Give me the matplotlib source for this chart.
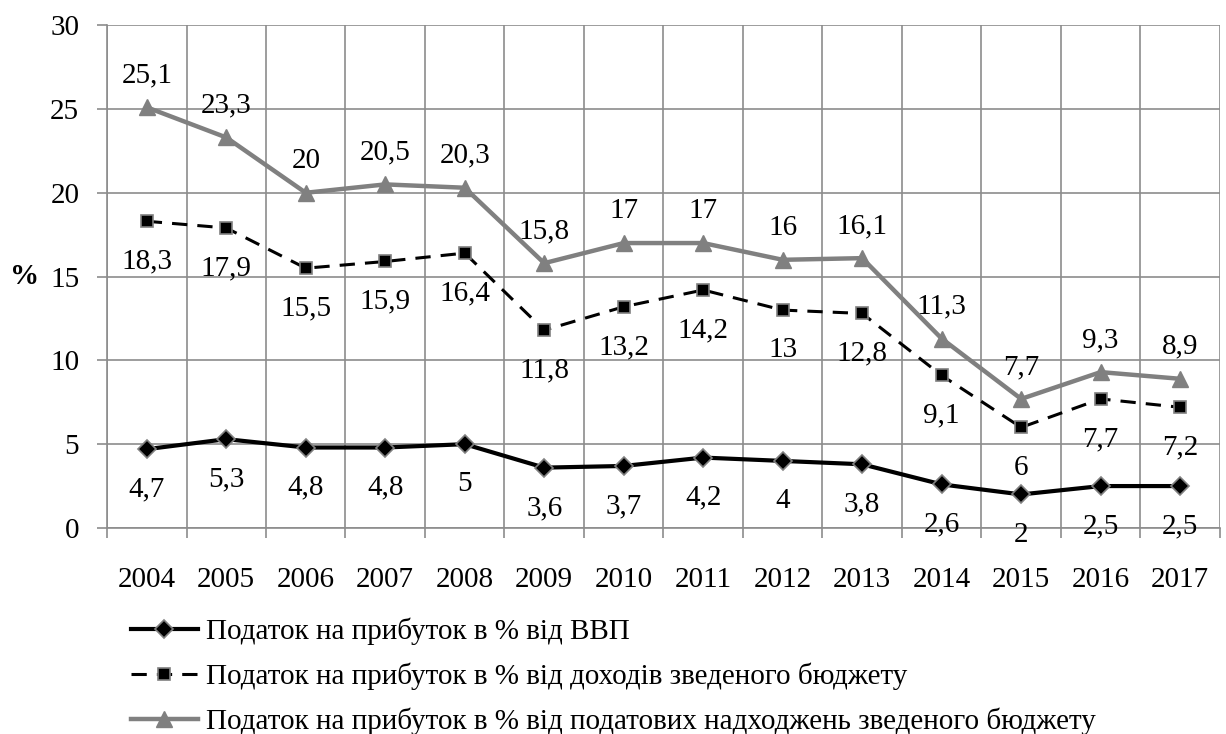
import matplotlib
matplotlib.use("Agg")
import matplotlib.pyplot as plt
from matplotlib.ticker import MultipleLocator, FixedLocator

plt.rcParams['font.family'] = ['Liberation Serif', 'DejaVu Serif']

years = ['2004', '2005', '2006', '2007', '2008', '2009', '2010',
         '2011', '2012', '2013', '2014', '2015', '2016', '2017']
gdp_share = [4.7, 5.3, 4.8, 4.8, 5, 3.6, 3.7, 4.2, 4, 3.8, 2.6, 2, 2.5, 2.5]
budget_share = [18.3, 17.9, 15.5, 15.9, 16.4, 11.8, 13.2, 14.2, 13, 12.8, 9.1, 6, 7.7, 7.2]
tax_share = [25.1, 23.3, 20, 20.5, 20.3, 15.8, 17, 17, 16, 16.1, 11.3, 7.7, 9.3, 8.9]

labels = ['Податок на прибуток в % від ВВП',
          'Податок на прибуток в % від доходів зведеного бюджету',
          'Податок на прибуток в % від податових надходжень зведеного бюджету']

GRID = '#8c8c8c'
GRAY = '#808080'
FS = 21

fig = plt.figure(figsize=(12.26, 7.34), dpi=100)
ax = fig.add_axes([0.0873, 0.2807, 0.9077, 0.685])

x = list(range(len(years)))

l1, = ax.plot(x, gdp_share, color='black', lw=3.0, marker='D', ms=9,
              mfc='black', mec=GRAY, mew=1.2, zorder=4)
l2, = ax.plot(x, budget_share, color='black', lw=2.2, ls=(0, (5, 3.3)),
              marker='s', ms=8.5, mfc='black', mec=GRAY, mew=1.2, zorder=4)
l3, = ax.plot(x, tax_share, color=GRAY, lw=3.2, marker='^', ms=12,
              mfc=GRAY, mec=GRAY, zorder=4)

def fmt(v):
    return ('%g' % v).replace('.', ',')

for xi, v in zip(x, tax_share):
    ax.annotate(fmt(v), (xi, v), xytext=(0, 23), textcoords='offset points',
                ha='center', va='center', fontsize=FS)
for xi, v in zip(x, budget_share):
    ax.annotate(fmt(v), (xi, v), xytext=(0, -29), textcoords='offset points',
                ha='center', va='center', fontsize=FS)
for xi, v in zip(x, gdp_share):
    ax.annotate(fmt(v), (xi, v), xytext=(0, -29), textcoords='offset points',
                ha='center', va='center', fontsize=FS)

ax.set_xlim(-0.5, len(years) - 0.5)
ax.set_ylim(0, 30)
ax.yaxis.set_major_locator(MultipleLocator(5))
ax.set_xticks(x)
ax.set_xticklabels(years)
ax.xaxis.set_minor_locator(FixedLocator([i - 0.5 for i in range(len(years) + 1)]))

ax.grid(True, which='major', axis='y', color=GRID, lw=1.2)
ax.grid(True, which='minor', axis='x', color=GRID, lw=1.2)
ax.set_axisbelow(True)

ax.tick_params(axis='x', which='major', length=0, pad=28, labelsize=FS)
ax.tick_params(axis='x', which='minor', length=7, width=1.2, color=GRID)
ax.tick_params(axis='y', which='major', length=7, width=1.2, color=GRID,
               pad=13, labelsize=FS)

for side in ('top', 'right'):
    ax.spines[side].set_visible(False)
for side in ('left', 'bottom'):
    ax.spines[side].set_color(GRID)
    ax.spines[side].set_linewidth(1.2)

ax.text(-0.074, 15, '%', transform=ax.get_yaxis_transform(), fontsize=FS,
        fontweight='bold', ha='center', va='center')

fig.legend([l1, l2, l3], labels, loc='upper left', bbox_to_anchor=(0.097, 0.175),
           frameon=False, fontsize=FS, handlelength=2.3, handletextpad=0.3,
           labelspacing=0.6, borderaxespad=0)

fig.savefig('out.png', dpi=100, facecolor='white')
